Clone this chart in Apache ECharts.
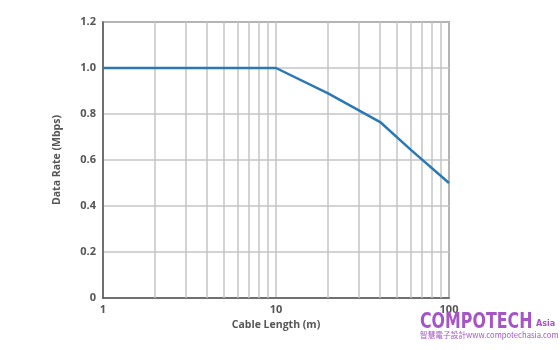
<!DOCTYPE html>
<html>
<head>
<meta charset="utf-8">
<script src="https://cdn.jsdelivr.net/npm/echarts@6/dist/echarts.min.js"></script>
<style>html,body{margin:0;padding:0;background:#fff}#c{width:560px;height:350px}</style>
</head>
<body>
<div id="c"></div>
<script>
var cableLength = [1, 10, 20, 40, 60, 100];
var dataRate = [1.0, 1.0, 0.89, 0.765, 0.645, 0.5];
var minorGridX = [2, 3, 4, 5, 6, 7, 8, 9, 20, 30, 40, 50, 60, 70, 80, 90];

var chart = echarts.init(document.getElementById('c'));
var labelStyle = {color: '#555', fontFamily: 'Open Sans', fontWeight: 'bold', fontSize: 11};
chart.setOption({
  animation: false,
  grid: {left: 103, right: 111, top: 22, bottom: 52, show: true, borderColor: '#5a5a5a', borderWidth: 1.5, backgroundColor: 'transparent'},
  xAxis: {
    type: 'log', logBase: 10, min: 1, max: 100,
    name: 'Cable Length (m)', nameLocation: 'middle', nameGap: 21,
    nameTextStyle: {color: '#555', fontFamily: 'Open Sans', fontWeight: 'bold', fontSize: 10.5},
    axisLine: {lineStyle: {color: '#5a5a5a', width: 1.5}},
    axisTick: {show: false},
    axisLabel: Object.assign({margin: 6}, labelStyle),
    splitLine: {show: true, lineStyle: {color: '#c4c4c4', width: 1.5}}
  },
  yAxis: {
    type: 'value', min: 0, max: 1.2, interval: 0.2,
    name: 'Data Rate (Mbps)', nameLocation: 'middle', nameGap: 40,
    nameTextStyle: {color: '#555', fontFamily: 'Open Sans', fontWeight: 'bold', fontSize: 10.5},
    axisLine: {show: true, lineStyle: {color: '#5a5a5a', width: 1.5}},
    axisTick: {show: false},
    axisLabel: Object.assign({margin: 7, formatter: function (v) { return v === 0 ? '0' : v.toFixed(1); }}, labelStyle),
    splitLine: {show: true, lineStyle: {color: '#c4c4c4', width: 1.5}}
  },
  series: [{
    type: 'line',
    data: cableLength.map(function (x, i) { return [x, dataRate[i]]; }),
    showSymbol: false,
    lineStyle: {color: '#2a78b4', width: 2.5},
    z: 5,
    markLine: {
      silent: true, symbol: 'none', label: {show: false},
      lineStyle: {color: '#c4c4c4', width: 1.5, type: 'solid'},
      data: minorGridX.map(function (v) { return {xAxis: v}; }),
      z: 1
    }
  }],
  graphic: [
    {type: 'text', x: 420, y: 311, z: 100, scaleX: 0.8, style: {text: 'COMPOTECH', fill: '#a555c6', font: 'bold 22px "DejaVu Sans Condensed", "Liberation Sans Narrow", sans-serif'}},
    {type: 'text', x: 536, y: 319, z: 100, style: {text: 'Asia', fill: '#a555c6', font: 'bold 9px "DejaVu Sans Condensed", sans-serif'}},
    {type: 'text', x: 420, y: 331, z: 100, scaleX: 0.96, style: {text: '智慧電子設計www.compotechasia.com', fill: '#a555c6', font: '8px "Noto Sans CJK TC", "DejaVu Sans Condensed", sans-serif'}}
  ]
});
</script>
</body>
</html>
